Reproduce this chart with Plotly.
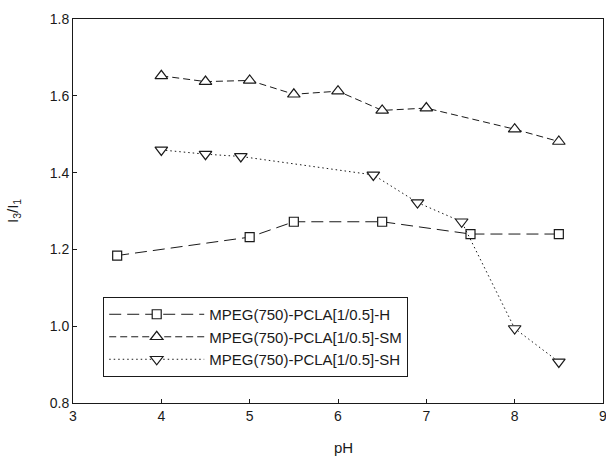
import plotly.graph_objects as go

# pH values and I3/I1 ratios for each copolymer system
ph_h = [3.5, 5.0, 5.5, 6.5, 7.5, 8.5]
ratio_h = [1.184, 1.232, 1.272, 1.272, 1.240, 1.240]

ph_sm = [4.0, 4.5, 5.0, 5.5, 6.0, 6.5, 7.0, 8.0, 8.5]
ratio_sm = [1.652, 1.637, 1.640, 1.604, 1.612, 1.562, 1.568, 1.513, 1.481]

ph_sh = [4.0, 4.5, 4.9, 6.4, 6.9, 7.4, 8.0, 8.5]
ratio_sh = [1.459, 1.448, 1.442, 1.394, 1.322, 1.272, 0.994, 0.907]

names = ["MPEG(750)-PCLA[1/0.5]-H",
         "MPEG(750)-PCLA[1/0.5]-SM",
         "MPEG(750)-PCLA[1/0.5]-SH"]

x_ticks = [3, 4, 5, 6, 7, 8, 9]
y_ticks = [0.8, 1.0, 1.2, 1.4, 1.6, 1.8]

INK = "#1a1a1a"
FONT = "Liberation Sans, Arial, sans-serif"

fig = go.Figure()

series = [
    (ph_h, ratio_h, names[0], "square", "12px,6px", 9),
    (ph_sm, ratio_sm, names[1], "triangle-up", "7px,4px", 11),
    (ph_sh, ratio_sh, names[2], "triangle-down", "1.5px,3px", 11),
]
for xs, ys, name, sym, dash, size in series:
    fig.add_trace(go.Scatter(
        x=xs, y=ys, name=name, mode="lines+markers",
        line=dict(color=INK, width=1, dash=dash),
        marker=dict(symbol=sym, size=size, color="white",
                    line=dict(color=INK, width=1.2)),
    ))

axis_common = dict(
    showgrid=False, zeroline=False, showline=True, mirror=True,
    linecolor=INK, linewidth=1, ticks="inside", ticklen=4,
    tickcolor=INK, tickwidth=1, automargin=False,
    ticklabeloverflow="allow",
    tickfont=dict(family=FONT, size=14, color=INK),
)

fig.update_xaxes(range=[3, 9], tickvals=x_ticks,
                 ticktext=[str(v) for v in x_ticks], **axis_common)
fig.update_yaxes(range=[0.8, 1.8], tickvals=y_ticks,
                 ticktext=[f"{v:.1f}" for v in y_ticks], **axis_common)

fig.add_annotation(text="pH", xref="paper", yref="paper", x=0.51, y=0,
                   yanchor="middle", yshift=-44, showarrow=False,
                   font=dict(family=FONT, size=15, color=INK))
fig.add_annotation(text="I<sub>3</sub>/I<sub>1</sub>", xref="paper",
                   yref="paper", x=0, y=0.5, xanchor="center",
                   xshift=-60, textangle=-90, showarrow=False,
                   font=dict(family=FONT, size=15, color=INK))

fig.update_layout(
    width=606, height=459,
    margin=dict(l=73, r=3, t=19, b=56),
    paper_bgcolor="white", plot_bgcolor="white",
    showlegend=True,
    legend=dict(
        x=0.057, y=0.276, xanchor="left", yanchor="top",
        bgcolor="white", bordercolor=INK, borderwidth=1,
        itemwidth=95, tracegroupgap=0,
        font=dict(family=FONT, size=15, color=INK),
    ),
)

fig.write_html("out.html")
